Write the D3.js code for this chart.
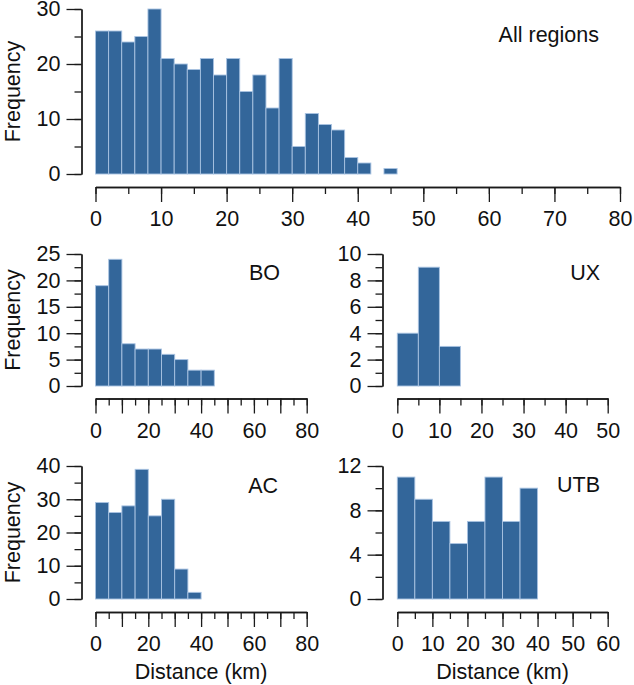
<!DOCTYPE html>
<html>
<head>
<meta charset="utf-8">
<script src="https://cdn.jsdelivr.net/npm/d3@7"></script>
<style>
  html, body { margin: 0; padding: 0; background: #fff; }
  svg { display: block; }
  text { font-family: "Liberation Sans", Arial, Helvetica, sans-serif; fill: #111; }
</style>
</head>
<body>
<svg id="chart" width="634" height="685"></svg>
<script>
// ---- data ----
const allRegionsCounts = [26, 26, 24, 25, 30, 21, 20, 19, 21, 18, 21, 15, 18, 12, 21, 5, 11, 9, 8, 3, 2, 0, 1];
const allRegionsBinWidth = 2;
const boCounts = [19, 24, 8, 7, 7, 6, 5, 3, 3];
const uxCounts = [4, 9, 3];
const acCounts = [29, 26, 28, 39, 25, 30, 9, 2];
const utbCounts = [11, 9, 7, 5, 7, 11, 7, 10];
const regionBinWidth = 5;

const panelNames = ["All regions", "BO", "UX", "AC", "UTB"];

const allXLabels = [0, 10, 20, 30, 40, 50, 60, 70, 80];
const allYLabels = [0, 10, 20, 30];
const boXLabels = [0, 20, 40, 60, 80];
const boYLabels = [0, 5, 10, 15, 20, 25];
const uxXLabels = [0, 10, 20, 30, 40, 50];
const uxYLabels = [0, 2, 4, 6, 8, 10];
const acXLabels = [0, 20, 40, 60, 80];
const acYLabels = [0, 10, 20, 30, 40];
const utbXLabels = [0, 10, 20, 30, 40, 50, 60];
const utbYLabels = [0, 4, 8, 12];

const xTitle = "Distance (km)";
const yTitle = "Frequency";

// ---- drawing ----
const svg = d3.select("#chart");
const FS = 21.5;
const barFill = "#33669a";
const barStroke = "#a9c3e2";
const axisColor = "#1a1a1a";

function panel(cfg) {
  const x = d3.scaleLinear().domain([0, cfg.xMax]).range([cfg.x0, cfg.x1]);
  const y = d3.scaleLinear().domain([0, cfg.yMax]).range([cfg.yBase, cfg.yTop]);
  const g = svg.append("g");

  // bars
  const bins = cfg.counts.map((c, i) => ({ lo: i * cfg.bw, hi: (i + 1) * cfg.bw, c }))
    .filter(d => d.c > 0);
  g.selectAll("rect.bar").data(bins).join("rect")
    .attr("class", "bar")
    .attr("x", d => x(d.lo))
    .attr("width", d => x(d.hi) - x(d.lo))
    .attr("y", d => y(d.c))
    .attr("height", d => y(0) - y(d.c))
    .attr("fill", barFill)
    .attr("stroke", barStroke)
    .attr("stroke-width", 0.9);

  // y axis: minor ticks
  const yMinor = d3.range(0, cfg.yMax + 1e-9, cfg.yMinorStep);
  const yAxisMinor = d3.axisLeft(y).tickValues(yMinor).tickSize(7).tickSizeOuter(0).tickFormat("");
  const ya = g.append("g").attr("transform", `translate(${cfg.yAxisX},0)`).call(yAxisMinor);
  const yAxisMajor = d3.axisLeft(y).tickValues(cfg.yLabels).tickSize(15).tickSizeOuter(0).tickPadding(6);
  const yb = g.append("g").attr("transform", `translate(${cfg.yAxisX},0)`).call(yAxisMajor);
  [ya, yb].forEach(s => {
    s.selectAll("path.domain").attr("stroke", axisColor).attr("stroke-width", 1.3);
    s.selectAll(".tick line").attr("stroke", axisColor).attr("stroke-width", 1.3);
    s.selectAll(".tick text").style("font-size", FS + "px").attr("fill", "#111")
      .style("font-family", '"Liberation Sans", Arial, sans-serif');
  });

  // x axis: minor + major (unlabelled) + labels
  const xMinor = d3.range(0, cfg.xMax + 1e-9, cfg.xMinorStep);
  const xMajor = d3.range(0, cfg.xMax + 1e-9, cfg.xMajorStep);
  const xAxisMinor = d3.axisBottom(x).tickValues(xMinor).tickSize(7).tickSizeOuter(0).tickFormat("");
  const xAxisMajor = d3.axisBottom(x).tickValues(xMajor).tickSize(15).tickSizeOuter(0)
    .tickFormat(v => cfg.xLabels.includes(v) ? String(v) : "").tickPadding(9);
  const xa = g.append("g").attr("transform", `translate(0,${cfg.xAxisY})`).call(xAxisMinor);
  const xb = g.append("g").attr("transform", `translate(0,${cfg.xAxisY})`).call(xAxisMajor);
  [xa, xb].forEach(s => {
    s.selectAll("path.domain").attr("stroke", axisColor).attr("stroke-width", 1.3);
    s.selectAll(".tick line").attr("stroke", axisColor).attr("stroke-width", 1.3);
    s.selectAll(".tick text").style("font-size", FS + "px").attr("fill", "#111")
      .style("font-family", '"Liberation Sans", Arial, sans-serif');
  });

  // panel name
  g.append("text").attr("x", cfg.nameX).attr("y", cfg.nameY)
    .attr("text-anchor", "end").style("font-size", FS + "px").text(cfg.name);

  if (cfg.yTitle) {
    g.append("text")
      .attr("transform", `translate(20,${(cfg.yBase + cfg.yTop) / 2}) rotate(-90)`)
      .attr("text-anchor", "middle").style("font-size", FS + "px").text(yTitle);
  }
  if (cfg.xTitle) {
    g.append("text").attr("x", (cfg.x0 + x(cfg.xMax)) / 2).attr("y", cfg.xAxisY + 67)
      .attr("text-anchor", "middle").style("font-size", FS + "px").text(xTitle);
  }
}

panel({ name: panelNames[0], counts: allRegionsCounts, bw: allRegionsBinWidth,
  xMax: 80, yMax: 30, x0: 95.5, x1: 620, yBase: 174, yTop: 9, yAxisX: 81.5, xAxisY: 187,
  xLabels: allXLabels, xMajorStep: 10, xMinorStep: 5, yLabels: allYLabels, yMinorStep: 5,
  nameX: 599, nameY: 42, yTitle: true });

panel({ name: panelNames[1], counts: boCounts, bw: regionBinWidth,
  xMax: 80, yMax: 25, x0: 95.5, x1: 306.7, yBase: 386, yTop: 254, yAxisX: 81.5, xAxisY: 398.5,
  xLabels: boXLabels, xMajorStep: 10, xMinorStep: 5, yLabels: boYLabels, yMinorStep: 2.5,
  nameX: 280, nameY: 280, yTitle: true });

panel({ name: panelNames[2], counts: uxCounts, bw: regionBinWidth,
  xMax: 50, yMax: 10, x0: 397.3, x1: 607.7, yBase: 386, yTop: 254, yAxisX: 382.5, xAxisY: 398.5,
  xLabels: uxXLabels, xMajorStep: 10, xMinorStep: 5, yLabels: uxYLabels, yMinorStep: 1,
  nameX: 600, nameY: 280 });

panel({ name: panelNames[3], counts: acCounts, bw: regionBinWidth,
  xMax: 80, yMax: 40, x0: 95.5, x1: 306.7, yBase: 599, yTop: 466, yAxisX: 81.5, xAxisY: 612,
  xLabels: acXLabels, xMajorStep: 10, xMinorStep: 5, yLabels: acYLabels, yMinorStep: 5,
  nameX: 278, nameY: 493, yTitle: true, xTitle: true });

panel({ name: panelNames[4], counts: utbCounts, bw: regionBinWidth,
  xMax: 60, yMax: 12, x0: 397.3, x1: 607.7, yBase: 599, yTop: 466, yAxisX: 382.5, xAxisY: 612,
  xLabels: utbXLabels, xMajorStep: 10, xMinorStep: 5, yLabels: utbYLabels, yMinorStep: 2,
  nameX: 600, nameY: 492, xTitle: true });
</script>
</body>
</html>
